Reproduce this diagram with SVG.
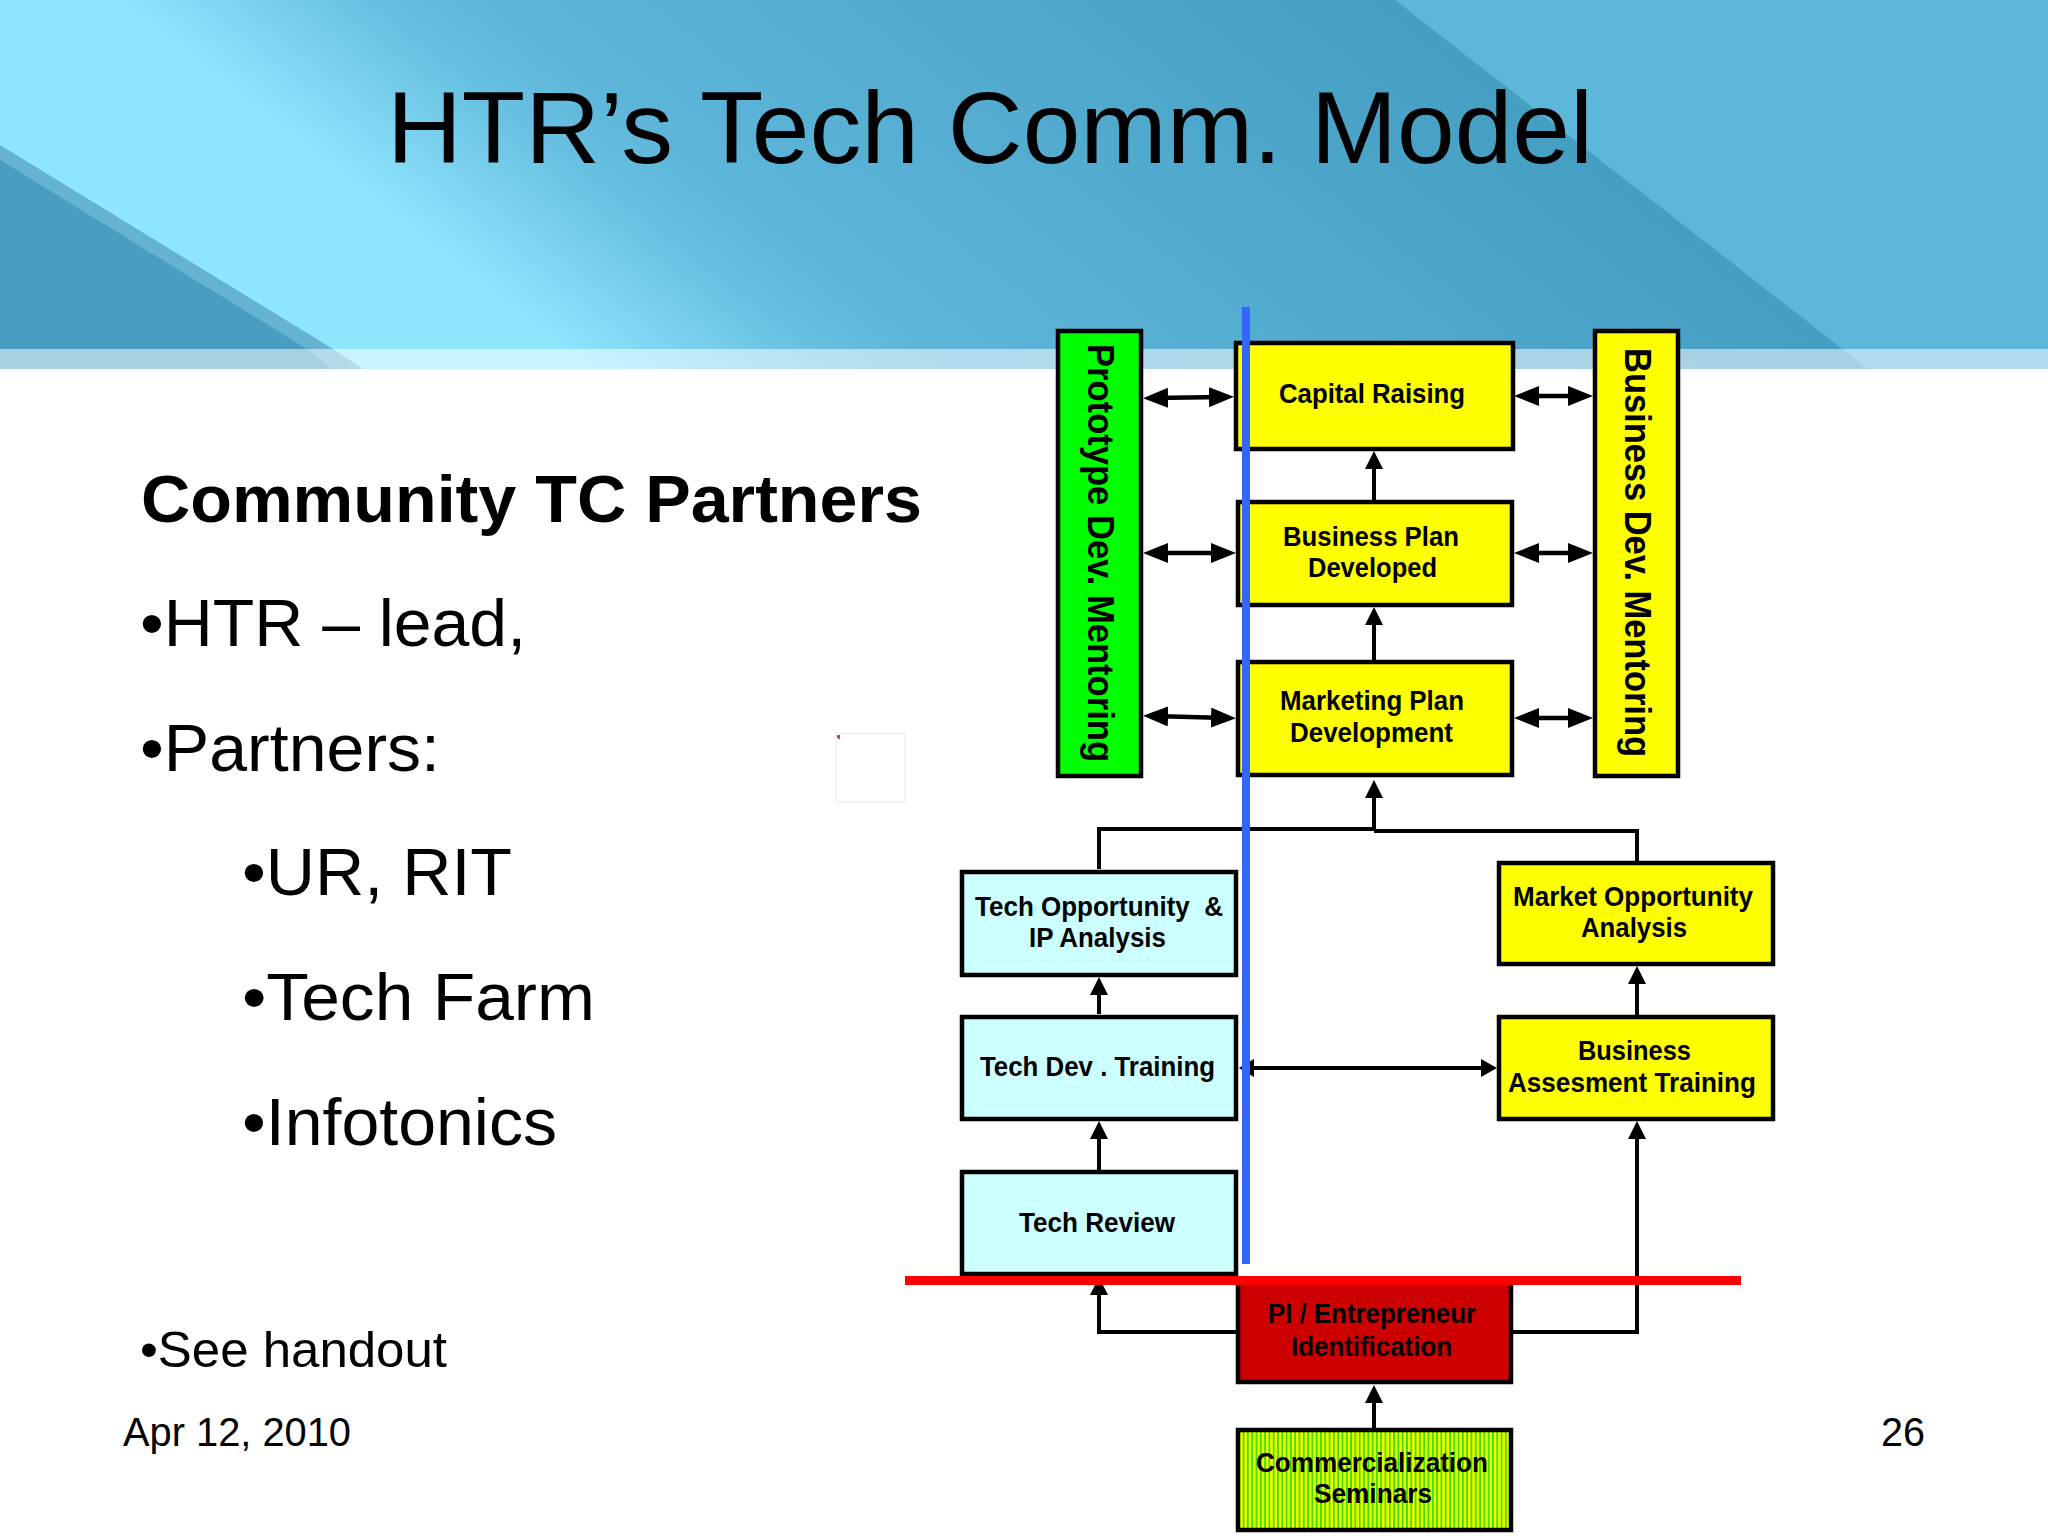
<svg xmlns="http://www.w3.org/2000/svg" width="2048" height="1536" viewBox="0 0 2048 1536">
<style>
text{font-family:"Liberation Sans",Arial,sans-serif;fill:#000}
.b{font-size:27px;font-weight:700}
.v{font-size:37px;font-weight:700}
.h{font-size:67px}
.box{stroke:#000;stroke-width:4.5}
.y{fill:#ffff00}.c{fill:#ccffff}
.l{fill:none;stroke:#000;stroke-width:4}
.a{marker-end:url(#ah)}
.d{marker-start:url(#bh);marker-end:url(#bh);stroke-width:4.5}
</style>
<defs>
<linearGradient id="bg" gradientUnits="userSpaceOnUse" x1="110" y1="0" x2="590" y2="-614">
<stop offset="0" stop-color="#8ee6ff"/><stop offset=".03" stop-color="#88e0fa"/><stop offset=".1" stop-color="#7cd3f0"/><stop offset=".2" stop-color="#68c1e1"/><stop offset=".3" stop-color="#5db6d9"/><stop offset=".45" stop-color="#58b1d4"/><stop offset="1" stop-color="#459fc3"/>
</linearGradient>
<pattern id="st" patternUnits="userSpaceOnUse" width="4.3" height="8"><rect width="4.3" height="8" fill="#eaff00"/><rect width="1.7" height="8" fill="#3fdc00"/></pattern>
<marker id="ah" markerUnits="userSpaceOnUse" markerWidth="18" markerHeight="18" refX="8" refY="9" orient="auto-start-reverse"><path d="M0 0L18 9L0 18Z" fill="#000"/></marker>
<marker id="bh" markerUnits="userSpaceOnUse" markerWidth="25" markerHeight="20" refX="15" refY="10" orient="auto-start-reverse"><path d="M0 0L25 10L0 20Z" fill="#000"/></marker>
</defs>

<g id="background">
<rect width="2048" height="1536" fill="#fff"/>
<rect width="2048" height="369" fill="url(#bg)"/>
<polygon points="1395,0 2048,0 2048,369 1868,369" fill="#5db7d9"/>
<polygon points="0,145 333,349 363,369 0,369" fill="#65b3d0"/>
<polygon points="0,160 307,349 333,369 0,369" fill="#489dc0"/>
<rect y="349" width="2048" height="20" fill="#fff" opacity=".52"/>
</g>

<g id="slide-text">
<text x="387" y="163" font-size="102" textLength="1206" lengthAdjust="spacingAndGlyphs">HTR’s Tech Comm. Model</text>
<text class="h" x="141" y="522" font-weight="700" textLength="781" lengthAdjust="spacingAndGlyphs">Community TC Partners</text>
<text class="h" x="140" y="646" textLength="386" lengthAdjust="spacingAndGlyphs">•HTR – lead,</text>
<text class="h" x="140" y="771" textLength="300" lengthAdjust="spacingAndGlyphs">•Partners:</text>
<text class="h" x="242" y="895" textLength="270" lengthAdjust="spacingAndGlyphs">•UR, RIT</text>
<text class="h" x="242" y="1020" textLength="353" lengthAdjust="spacingAndGlyphs">•Tech Farm</text>
<text class="h" x="242" y="1145" textLength="315" lengthAdjust="spacingAndGlyphs">•Infotonics</text>
<text x="140" y="1367" font-size="50" textLength="307" lengthAdjust="spacingAndGlyphs">•See handout</text>
<text x="123" y="1446" font-size="40" textLength="228" lengthAdjust="spacingAndGlyphs">Apr 12, 2010</text>
<text x="1881" y="1446" font-size="40" textLength="44" lengthAdjust="spacingAndGlyphs">26</text>
</g>

<g id="placeholder">
<rect x="836" y="733.5" width="69" height="68.5" fill="#fff" stroke="#e6e6f0" stroke-width="1"/>
<rect x="837" y="735" width="3" height="3" fill="#d0402b"/>
<rect x="838" y="737" width="2" height="2" fill="#5566cc"/>
</g>

<g id="connectors">
<path class="l a" d="M1099 869V829H1374V790"/>
<path class="l" d="M1374 831H1637V861"/>
<path class="l a" d="M1099 1014V987"/>
<path class="l a" d="M1099 1171V1131"/>
<path class="l a" d="M1637 1015V976"/>
<path class="l a" d="M1513 1332H1637V1131"/>
<path class="l a" d="M1236 1332H1099V1287"/>
<path class="l a" d="M1374 1429V1395"/>
<path class="l a" d="M1374 660V617"/>
<path class="l a" d="M1374 500V461"/>
<path class="l" d="M1254 1068H1484"/>
<polygon points="1239,1068 1254,1059 1254,1077"/>
<polygon points="1497,1068 1481,1059 1481,1077"/>
<path class="l d" d="M1153 398L1224 397"/>
<path class="l d" d="M1153 553H1226"/>
<path class="l d" d="M1153 716L1226 718"/>
<path class="l d" d="M1524 396H1583"/>
<path class="l d" d="M1524 553H1583"/>
<path class="l d" d="M1524 718H1583"/>
</g>

<g id="prototype-mentoring">
<rect class="box" x="1058" y="331" width="83" height="445" fill="#00ff00"/>
<text class="v" transform="translate(1088 344) rotate(90)" textLength="418" lengthAdjust="spacingAndGlyphs">Prototype Dev. Mentoring</text>
</g>
<g id="capital-raising">
<rect class="box y" x="1236" y="343" width="277" height="106"/>
<text class="b" x="1279" y="403" textLength="186" lengthAdjust="spacingAndGlyphs">Capital Raising</text>
</g>
<g id="business-plan">
<rect class="box y" x="1238" y="502" width="274" height="103"/>
<text class="b" x="1283" y="546" textLength="176" lengthAdjust="spacingAndGlyphs">Business Plan</text>
<text class="b" x="1308" y="577" textLength="129" lengthAdjust="spacingAndGlyphs">Developed</text>
</g>
<g id="marketing-plan">
<rect class="box y" x="1238" y="662" width="274" height="113"/>
<text class="b" x="1280" y="710" textLength="184" lengthAdjust="spacingAndGlyphs">Marketing Plan</text>
<text class="b" x="1290" y="742" textLength="163" lengthAdjust="spacingAndGlyphs">Development</text>
</g>
<g id="business-mentoring">
<rect class="box y" x="1595" y="331" width="83" height="445"/>
<text class="v" transform="translate(1625 348) rotate(90)" textLength="409" lengthAdjust="spacingAndGlyphs">Business Dev. Mentoring</text>
</g>
<g id="tech-opportunity">
<rect class="box c" x="962" y="872" width="274" height="103"/>
<text class="b" x="975" y="916" xml:space="preserve" textLength="248" lengthAdjust="spacingAndGlyphs">Tech Opportunity  &amp;</text>
<text class="b" x="1029" y="947" textLength="137" lengthAdjust="spacingAndGlyphs">IP Analysis</text>
</g>
<g id="tech-dev-training">
<rect class="box c" x="962" y="1017" width="274" height="102"/>
<text class="b" x="980" y="1076" textLength="235" lengthAdjust="spacingAndGlyphs">Tech Dev . Training</text>
</g>
<g id="tech-review">
<rect class="box c" x="962" y="1172" width="274" height="102"/>
<text class="b" x="1019" y="1232" textLength="156" lengthAdjust="spacingAndGlyphs">Tech Review</text>
</g>
<g id="market-opportunity">
<rect class="box y" x="1499" y="863" width="274" height="101"/>
<text class="b" x="1513" y="906" textLength="240" lengthAdjust="spacingAndGlyphs">Market Opportunity</text>
<text class="b" x="1581" y="937" textLength="106" lengthAdjust="spacingAndGlyphs">Analysis</text>
</g>
<g id="business-assessment">
<rect class="box y" x="1499" y="1017" width="274" height="102"/>
<text class="b" x="1578" y="1060" textLength="113" lengthAdjust="spacingAndGlyphs">Business</text>
<text class="b" x="1508" y="1092" textLength="248" lengthAdjust="spacingAndGlyphs">Assesment Training</text>
</g>
<g id="pi-identification">
<rect class="box" x="1238" y="1280" width="273" height="102" fill="#cc0000"/>
<text class="b" x="1268" y="1323" textLength="208" lengthAdjust="spacingAndGlyphs">PI / Entrepreneur</text>
<text class="b" x="1291" y="1356" textLength="161" lengthAdjust="spacingAndGlyphs">Identification</text>
</g>
<g id="commercialization-seminars">
<rect class="box" x="1238" y="1430" width="273" height="100" fill="url(#st)"/>
<text class="b" x="1256" y="1472" textLength="232" lengthAdjust="spacingAndGlyphs">Commercialization</text>
<text class="b" x="1314" y="1503" textLength="118" lengthAdjust="spacingAndGlyphs">Seminars</text>
</g>

<g id="overlay-lines">
<rect x="1242" y="307" width="8" height="957" fill="#3366ff"/>
<rect x="905" y="1276" width="836" height="9" fill="#ff0000"/>
</g>
</svg>
